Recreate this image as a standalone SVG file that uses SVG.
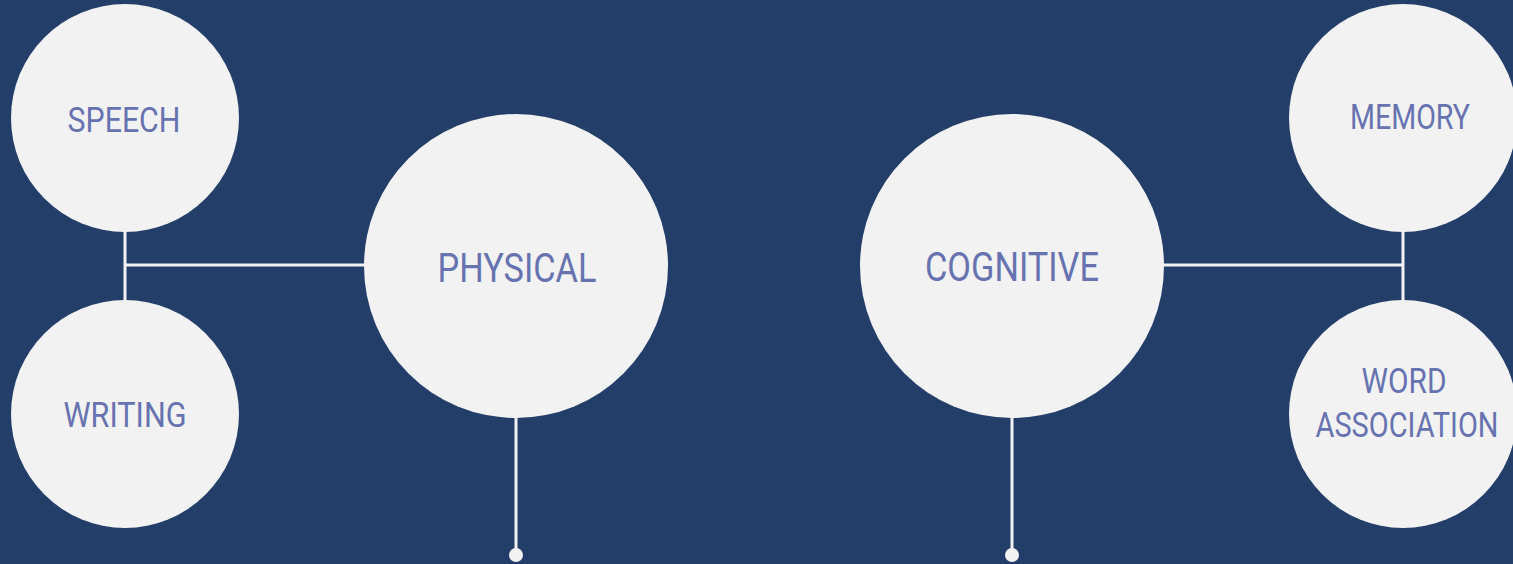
<svg xmlns="http://www.w3.org/2000/svg" width="1513" height="564" viewBox="0 0 1513 564">
<style>
.bg{fill:#233e69}
.node{fill:#f2f2f2}
.conn{stroke:#f2f2f2;stroke-width:3;fill:none}
.dot{fill:#f2f2f2}
.lbl{font-family:Roboto,"Liberation Sans",sans-serif;fill:#6673b0;text-anchor:middle;font-weight:400}
.s{font-size:35px}
.l{font-size:41px}
</style>
<rect class="bg" x="0" y="0" width="1513" height="564"/>
<g id="connectors">
<line class="conn" x1="125" y1="225" x2="125" y2="305"/>
<line class="conn" x1="125" y1="265" x2="370" y2="265"/>
<line class="conn" x1="516" y1="410" x2="516" y2="550"/>
<line class="conn" x1="1160" y1="265" x2="1403" y2="265"/>
<line class="conn" x1="1403" y1="225" x2="1403" y2="305"/>
<line class="conn" x1="1012" y1="410" x2="1012" y2="550"/>
<circle class="dot" cx="516" cy="555" r="7"/>
<circle class="dot" cx="1012" cy="555" r="7"/>
</g>
<g id="speech">
<circle class="node" cx="125" cy="118" r="114"/>
<text class="lbl s" x="124" y="132" textLength="113" lengthAdjust="spacingAndGlyphs">SPEECH</text>
</g>
<g id="writing">
<circle class="node" cx="125" cy="414" r="114"/>
<text class="lbl s" x="125" y="427" textLength="123" lengthAdjust="spacingAndGlyphs">WRITING</text>
</g>
<g id="physical">
<circle class="node" cx="516" cy="266" r="152"/>
<text class="lbl l" x="517" y="282" textLength="159" lengthAdjust="spacingAndGlyphs">PHYSICAL</text>
</g>
<g id="cognitive">
<circle class="node" cx="1012" cy="266" r="152"/>
<text class="lbl l" x="1012" y="281" textLength="174" lengthAdjust="spacingAndGlyphs">COGNITIVE</text>
</g>
<g id="memory">
<circle class="node" cx="1403" cy="118" r="114"/>
<text class="lbl s" x="1410" y="129" textLength="120" lengthAdjust="spacingAndGlyphs">MEMORY</text>
</g>
<g id="word-association">
<circle class="node" cx="1403" cy="414" r="114"/>
<text class="lbl s" x="1404" y="393" textLength="85" lengthAdjust="spacingAndGlyphs">WORD</text>
<text class="lbl s" x="1407" y="437" textLength="183" lengthAdjust="spacingAndGlyphs">ASSOCIATION</text>
</g>
</svg>
